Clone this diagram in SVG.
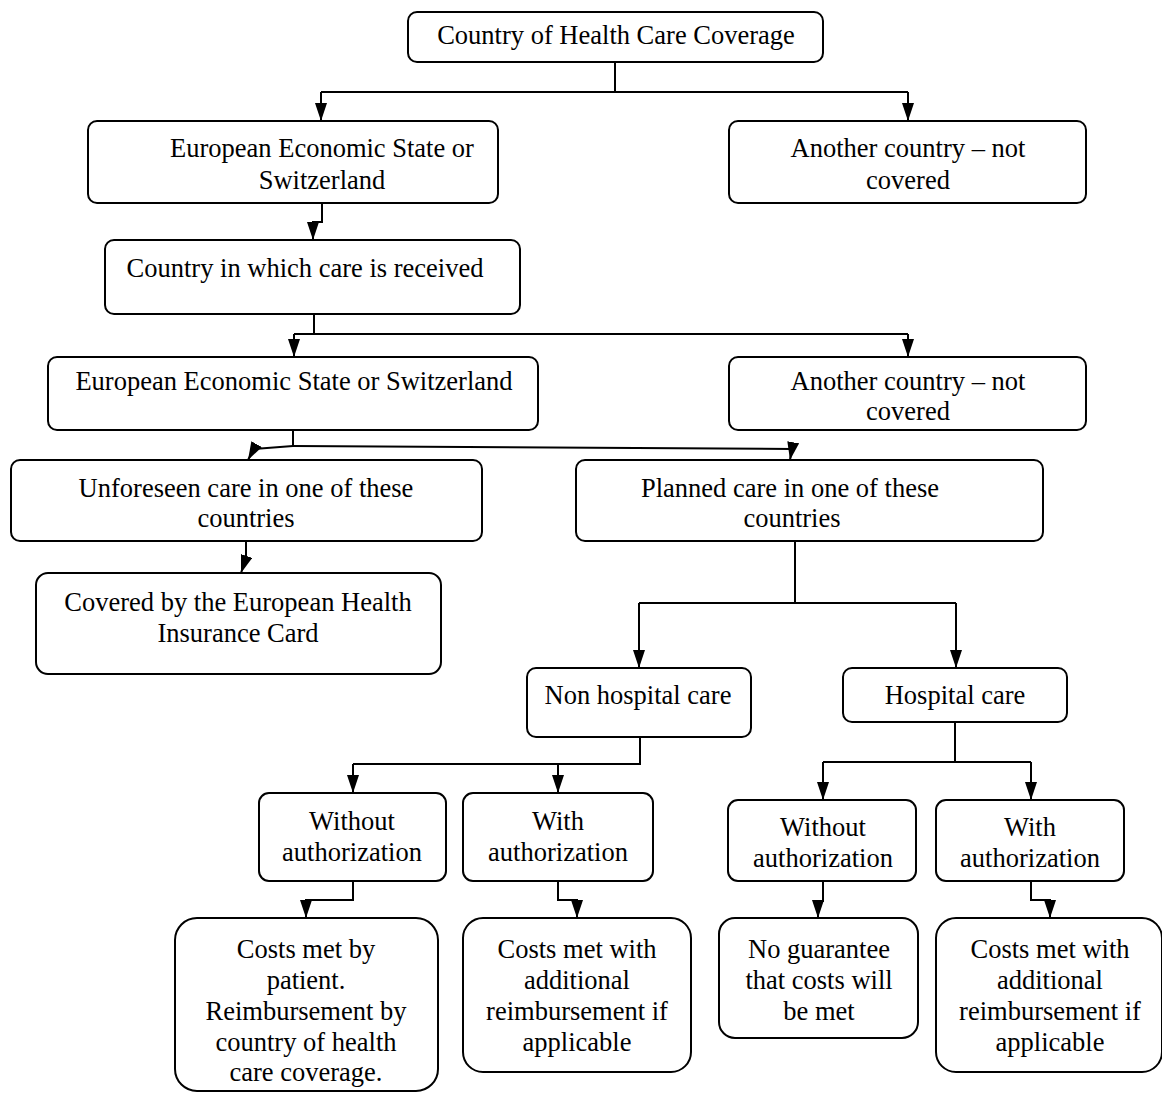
<svg xmlns="http://www.w3.org/2000/svg" width="1162" height="1093" viewBox="0 0 1162 1093">
<style>
.box{fill:#fff;stroke:#000;stroke-width:2}
.t{font-family:"Liberation Serif","Times New Roman",serif;font-size:26.5px;fill:#000;text-anchor:middle}
.c{fill:none;stroke:#000;stroke-width:2}
</style>
<defs>
<marker id="ar" viewBox="0 0 18 12" markerWidth="18" markerHeight="12" refX="18" refY="6" orient="auto" markerUnits="userSpaceOnUse">
<path d="M0,0 L18,6 L0,12 z" fill="#000"/>
</marker>
</defs>
<rect width="1162" height="1093" fill="#fff"/>
<g id="connectors">
<path class="c" d="M615,62 V92 M321,92 H908"/>
<path class="c" d="M321,92 V121" marker-end="url(#ar)"/>
<path class="c" d="M908,92 V121" marker-end="url(#ar)"/>
<path class="c" d="M322,203 V222 H313 V240" marker-end="url(#ar)"/>
<path class="c" d="M314,314 V334 M294,334 H908"/>
<path class="c" d="M294,334 V357" marker-end="url(#ar)"/>
<path class="c" d="M908,334 V357" marker-end="url(#ar)"/>
<path class="c" d="M293,430 V446"/>
<path class="c" d="M293,446 L254,449 L248,460" marker-end="url(#ar)"/>
<path class="c" d="M293,446 L792,449 L790,460" marker-end="url(#ar)"/>
<path class="c" d="M246,541 V558 L241,573" marker-end="url(#ar)"/>
<path class="c" d="M795,541 V603 M639,603 H956"/>
<path class="c" d="M639,603 V668" marker-end="url(#ar)"/>
<path class="c" d="M956,603 V668" marker-end="url(#ar)"/>
<path class="c" d="M640,737 V764 H353"/>
<path class="c" d="M353,764 V793" marker-end="url(#ar)"/>
<path class="c" d="M558,764 V793" marker-end="url(#ar)"/>
<path class="c" d="M955,722 V762 M823,762 H1031"/>
<path class="c" d="M823,762 V800" marker-end="url(#ar)"/>
<path class="c" d="M1031,762 V800" marker-end="url(#ar)"/>
<path class="c" d="M353,881 V900 H306 V918" marker-end="url(#ar)"/>
<path class="c" d="M558,881 V900 H577 V918" marker-end="url(#ar)"/>
<path class="c" d="M823,881 V901 H818 V918" marker-end="url(#ar)"/>
<path class="c" d="M1031,881 V900 H1050 V918" marker-end="url(#ar)"/>
</g>
<g id="n1"><rect class="box" x="408" y="12" width="415" height="50" rx="9"/><text class="t" x="616" y="44">Country of Health Care Coverage</text></g>
<g id="n2"><rect class="box" x="88" y="121" width="410" height="82" rx="9"/><text class="t" x="322" y="157">European Economic State or</text><text class="t" x="322" y="189">Switzerland</text></g>
<g id="n3"><rect class="box" x="729" y="121" width="357" height="82" rx="9"/><text class="t" x="908" y="157">Another country – not</text><text class="t" x="908" y="189">covered</text></g>
<g id="n4"><rect class="box" x="105" y="240" width="415" height="74" rx="9"/><text class="t" x="305" y="277">Country in which care is received</text></g>
<g id="n5"><rect class="box" x="48" y="357" width="490" height="73" rx="9"/><text class="t" x="294" y="390">European Economic State or Switzerland</text></g>
<g id="n6"><rect class="box" x="729" y="357" width="357" height="73" rx="9"/><text class="t" x="908" y="390">Another country – not</text><text class="t" x="908" y="420">covered</text></g>
<g id="n7"><rect class="box" x="11" y="460" width="471" height="81" rx="9"/><text class="t" x="246" y="497">Unforeseen care in one of these</text><text class="t" x="246" y="527">countries</text></g>
<g id="n8"><rect class="box" x="576" y="460" width="467" height="81" rx="9"/><text class="t" x="790" y="497">Planned care in one of these</text><text class="t" x="792" y="527">countries</text></g>
<g id="n9"><rect class="box" x="36" y="573" width="405" height="101" rx="12"/><text class="t" x="238" y="611">Covered by the European Health</text><text class="t" x="238" y="642">Insurance Card</text></g>
<g id="n10"><rect class="box" x="527" y="668" width="224" height="69" rx="9"/><text class="t" x="638" y="704">Non hospital care</text></g>
<g id="n11"><rect class="box" x="843" y="668" width="224" height="54" rx="9"/><text class="t" x="955" y="704">Hospital care</text></g>
<g id="n12"><rect class="box" x="259" y="793" width="187" height="88" rx="10"/><text class="t" x="352" y="830">Without</text><text class="t" x="352" y="861">authorization</text></g>
<g id="n13"><rect class="box" x="463" y="793" width="190" height="88" rx="10"/><text class="t" x="558" y="830">With</text><text class="t" x="558" y="861">authorization</text></g>
<g id="n14"><rect class="box" x="728" y="800" width="188" height="81" rx="10"/><text class="t" x="823" y="836">Without</text><text class="t" x="823" y="867">authorization</text></g>
<g id="n15"><rect class="box" x="936" y="800" width="188" height="81" rx="10"/><text class="t" x="1030" y="836">With</text><text class="t" x="1030" y="867">authorization</text></g>
<g id="n16"><rect class="box" x="175" y="918" width="263" height="173" rx="22"/><text class="t" x="306" y="958">Costs met by</text><text class="t" x="306" y="989">patient.</text><text class="t" x="306" y="1020">Reimbursement by</text><text class="t" x="306" y="1051">country of health</text><text class="t" x="306" y="1081">care coverage.</text></g>
<g id="n17"><rect class="box" x="463" y="918" width="228" height="154" rx="20"/><text class="t" x="577" y="958">Costs met with</text><text class="t" x="577" y="989">additional</text><text class="t" x="577" y="1020">reimbursement if</text><text class="t" x="577" y="1051">applicable</text></g>
<g id="n18"><rect class="box" x="719" y="918" width="199" height="120" rx="16"/><text class="t" x="819" y="958">No guarantee</text><text class="t" x="819" y="989">that costs will</text><text class="t" x="819" y="1020">be met</text></g>
<g id="n19"><rect class="box" x="936" y="918" width="226" height="154" rx="20"/><text class="t" x="1050" y="958">Costs met with</text><text class="t" x="1050" y="989">additional</text><text class="t" x="1050" y="1020">reimbursement if</text><text class="t" x="1050" y="1051">applicable</text></g>
</svg>
